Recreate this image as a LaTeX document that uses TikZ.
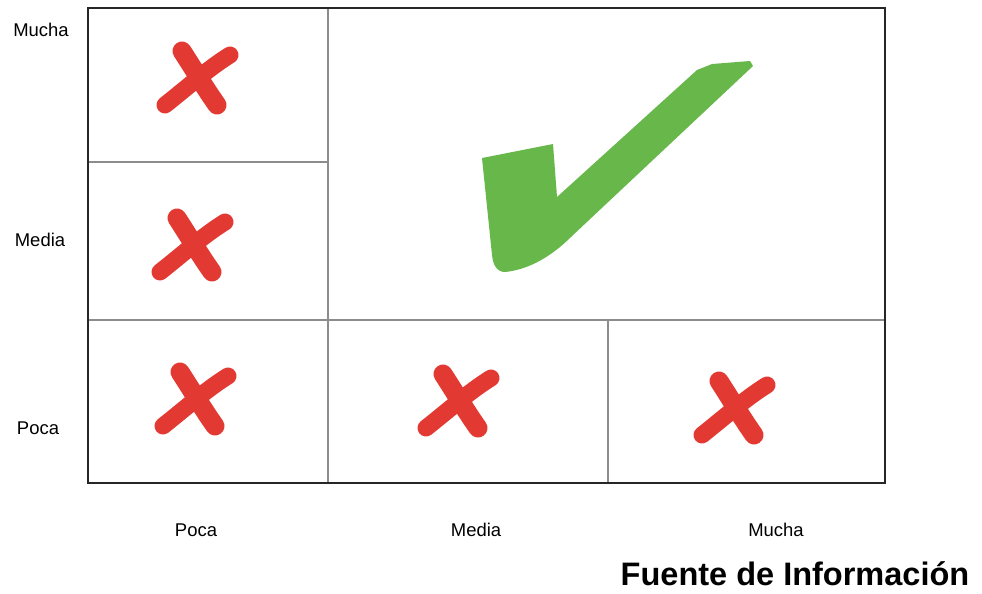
\documentclass[tikz,border=0pt]{standalone}
\usepackage{fontspec}
\setmainfont{Liberation Sans}
\usetikzlibrary{positioning}

\definecolor{crossred}{HTML}{E23A33}
\definecolor{checkgreen}{HTML}{67B74B}

\tikzset{
  grid line/.style={draw=black!45, line width=0.6pt},
  frame line/.style={draw=black!85, line width=0.9pt},
  level label/.style={font=\fontsize{10.5}{12}\selectfont, inner sep=0pt},
  cross/.pic={
    \draw[crossred, line width=0.38cm, line cap=round]
      (-15,-29) .. controls (-4,-12) and (8,8) .. (20,25);
    \draw[crossred, line width=0.34cm, line cap=round]
      (33,-25) .. controls (12,-12) and (-8,6) .. (-32,25);
  }
}

\begin{document}
\begin{tikzpicture}[x=0.02cm, y=-0.02cm]
  \useasboundingbox (0,0) rectangle (982,593);

  % cuadricula
  \draw[grid line] (328,8) -- (328,483);
  \draw[grid line] (88,162) -- (328,162);
  \draw[grid line] (88,320) -- (885,320);
  \draw[grid line] (608,320) -- (608,483);
  \draw[frame line] (88,8) rectangle (885,483);

  % etiquetas
  \node[level label] (ymucha) at (41,30) {Mucha};
  \node[level label] (ymedia) at (40,240) {Media};
  \node[level label] (ypoca) at (38,428) {Poca};
  \node[level label] (xpoca) at (196,530) {Poca};
  \node[level label] (xmedia) at (476,530) {Media};
  \node[level label] (xmucha) at (776,530) {Mucha};
  \node[font=\fontsize{18.5}{22}\selectfont\bfseries, inner sep=0pt] (fuente) at (795,574) {Fuente de Información};

  % marcas
  \foreach \cx/\cy in {197/80, 192/247, 195/401, 458/403, 734/410}
    \pic at (\cx,\cy) {cross};

  \fill[checkgreen] (482,158) -- (553,144) -- (557,197) -- (697,70) -- (712,64)
    -- (750,61) -- (753,66) -- (572,236)
    .. controls (548,260) and (525,270) .. (505,272)
    .. controls (497,272) and (493,265) .. (492,255) -- cycle;
\end{tikzpicture}
\end{document}
